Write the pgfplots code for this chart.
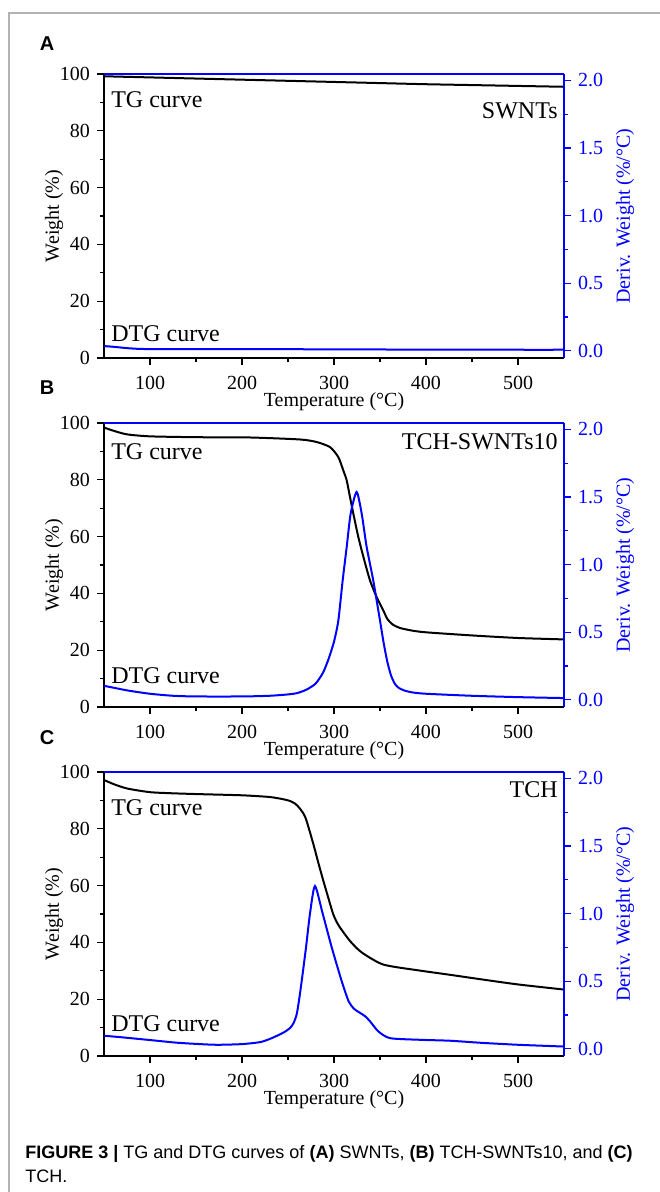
\documentclass[border=0pt]{standalone}
\usepackage{fontspec}
\setmainfont{Liberation Serif}
\newfontfamily\capfont{Liberation Sans}
\usepackage{pgfplots}
\usepackage{pgfplotstable}
\pgfplotsset{compat=1.18}

% TG (weight %) and DTG (%/C) curves
\pgfplotstableread{
T W
50 99.2
75 99.0
100 98.8
150 98.4
200 98.0
250 97.6
300 97.2
350 96.8
400 96.4
450 96.1
500 95.8
550 95.5
}\tgA
\pgfplotstableread{
T D
50 0.035
60 0.030
75 0.020
90 0.014
120 0.012
200 0.013
250 0.012
300 0.011
400 0.009
500 0.008
550 0.008
}\dtgA
\pgfplotstableread{
T W
50 98.4
60 97.3
75 96.0
100 95.3
150 95.0
208.7 94.9
263 94.2
281.2 93.3
295.7 91.5
304.7 88.0
310.1 83.3
313.8 79.8
317.4 73.9
321 68.1
326.4 59.9
332 52.8
339.1 44.6
346.4 38.7
353.6 34.0
358 31.0
364 29.0
372 27.8
385 26.9
400 26.3
450 25.2
500 24.3
550 23.8
}\tgB
\pgfplotstableread{
T D
50 0.104
75 0.070
100 0.045
125 0.030
150 0.025
200 0.025
230 0.030
250 0.040
260 0.050
270 0.075
280 0.120
288 0.200
294 0.300
300 0.430
304.7 0.586
309.4 0.882
313.8 1.130
318.1 1.377
324.6 1.537
330.1 1.377
335.5 1.130
342.7 0.882
350 0.586
354 0.420
358 0.280
362 0.180
366 0.120
370 0.090
376 0.070
385 0.055
400 0.045
450 0.030
500 0.020
550 0.013
}\dtgB
\pgfplotstableread{
T W
50 97.2
60 95.8
75 94.2
100 92.9
125 92.5
154.3 92.2
200 91.8
230 91.2
245 90.4
252.2 89.8
258 88.8
262 87.5
266.7 85.4
270 83.0
277.5 74.7
283 68.0
288.4 61.7
294 55.5
299.2 49.9
305 46.0
317.4 40.5
330 36.5
353.6 32.2
393 30.1
426 28.6
460 27.0
500 25.2
550 23.4
}\tgC
\pgfplotstableread{
T D
50 0.097
70 0.085
100 0.065
130 0.045
160 0.033
175 0.030
200 0.035
220 0.050
232.3 0.079
245 0.120
252.2 0.154
256 0.190
259.4 0.254
262 0.360
264.9 0.502
269.6 0.751
273.9 1.000
279.3 1.204
287.7 1.000
297.5 0.751
308.3 0.502
316 0.350
322 0.295
328.3 0.266
334 0.240
339.1 0.204
348.2 0.129
360.9 0.079
393 0.067
426 0.060
459 0.045
500 0.030
550 0.017
}\dtgC

\tikzset{ann/.style={font=\fontsize{12}{14}\selectfont, inner sep=0pt}}

\pgfplotsset{
  panel/.style={
    scale only axis, width=230pt, height=142pt,
    xmin=50, xmax=550,
    tick align=outside,
    major tick length=3.5pt, minor tick length=2pt,
    axis line style={-, line width=0.7pt},
    tick style={line width=0.6pt},
    /pgf/number format/assume math mode=true,
    tick label style={font=\fontsize{10}{12}\selectfont},
    label style={font=\fontsize{10}{12}\selectfont},
  },
  leftax/.style={panel,
    axis x line*=bottom, axis y line*=left,
    ymin=0, ymax=100, ytick={0,20,...,100}, minor y tick num=1,
    xtick={100,200,...,500}, minor x tick num=1,
    xticklabel style={yshift=-2pt},
    xlabel={Temperature (°C)}, ylabel={Weight (\%)},
    xlabel style={at={(axis description cs:0.5,-0.155)}, anchor=center},
    ylabel style={at={(axis description cs:-0.1087,0.5)}, anchor=center},
    tick style={black, line width=0.6pt},
  },
  rightax/.style={panel,
    axis x line*=top, axis y line*=right, xtick=\empty,
    ymin=-0.053, ymax=2.047, ytick={0,0.5,...,2}, minor y tick num=1,
    axis line style={blue, -, line width=0.7pt},
    tick style={blue, line width=0.6pt},
    yticklabel style={blue, /pgf/number format/.cd, fixed, fixed zerofill, precision=1},
    ylabel={Deriv. Weight (\%/°C)},
    ylabel style={blue, at={(axis description cs:1.1326,0.5)}, anchor=center},
  },
}

\begin{document}
\begin{tikzpicture}
\useasboundingbox (0,0) rectangle (329.5pt,-596pt);
\draw[gray!60, line width=1pt] (4.5pt,-600pt) -- (4.5pt,-6.5pt) -- (335pt,-6.5pt);

% panel A
\node[font=\capfont\bfseries\fontsize{10}{12}\selectfont] at (23.5pt,-22pt) {A};
\begin{axis}[leftax, at={(52pt,-37pt)}, anchor=north west]
\addplot[black, line width=1pt, smooth, tension=0.4] table[x=T, y=W] {\tgA};
\node[ann, anchor=west] at (rel axis cs:0.015,0.91) {TG curve};
\node[ann, anchor=west] at (rel axis cs:0.015,0.085) {DTG curve};
\node[ann, anchor=east] at (rel axis cs:0.987,0.87) {SWNTs};
\end{axis}
\begin{axis}[rightax, at={(52pt,-37pt)}, anchor=north west]
\addplot[blue, line width=1pt, smooth, tension=0.4] table[x=T, y=D] {\dtgA};
\end{axis}

% panel B
\node[font=\capfont\bfseries\fontsize{10}{12}\selectfont] at (23.5pt,-194pt) {B};
\begin{axis}[leftax, at={(52pt,-211.5pt)}, anchor=north west]
\addplot[black, line width=1pt, smooth, tension=0.4] table[x=T, y=W] {\tgB};
\node[ann, anchor=west] at (rel axis cs:0.015,0.9) {TG curve};
\node[ann, anchor=west] at (rel axis cs:0.015,0.11) {DTG curve};
\node[ann, anchor=east] at (rel axis cs:0.987,0.933) {TCH-SWNTs10};
\end{axis}
\begin{axis}[rightax, at={(52pt,-211.5pt)}, anchor=north west]
\addplot[blue, line width=1pt, smooth, tension=0.4] table[x=T, y=D] {\dtgB};
\end{axis}

% panel C
\node[font=\capfont\bfseries\fontsize{10}{12}\selectfont] at (23.5pt,-369pt) {C};
\begin{axis}[leftax, at={(52pt,-386pt)}, anchor=north west]
\addplot[black, line width=1pt, smooth, tension=0.4] table[x=T, y=W] {\tgC};
\node[ann, anchor=west] at (rel axis cs:0.015,0.875) {TG curve};
\node[ann, anchor=west] at (rel axis cs:0.015,0.115) {DTG curve};
\node[ann, anchor=east] at (rel axis cs:0.987,0.937) {TCH};
\end{axis}
\begin{axis}[rightax, at={(52pt,-386pt)}, anchor=north west]
\addplot[blue, line width=1pt, smooth, tension=0.4] table[x=T, y=D] {\dtgC};
\end{axis}

% caption
\node[anchor=base west, inner sep=0pt, font=\capfont\fontsize{9}{11}\selectfont]
  at (12.5pt,-579pt) {\textbf{FIGURE 3 |} TG and DTG curves of \textbf{(A)} SWNTs, \textbf{(B)} TCH-SWNTs10, and \textbf{(C)}};
\node[anchor=base west, inner sep=0pt, font=\capfont\fontsize{9}{11}\selectfont]
  at (12.5pt,-591pt) {TCH.};
\end{tikzpicture}
\end{document}
